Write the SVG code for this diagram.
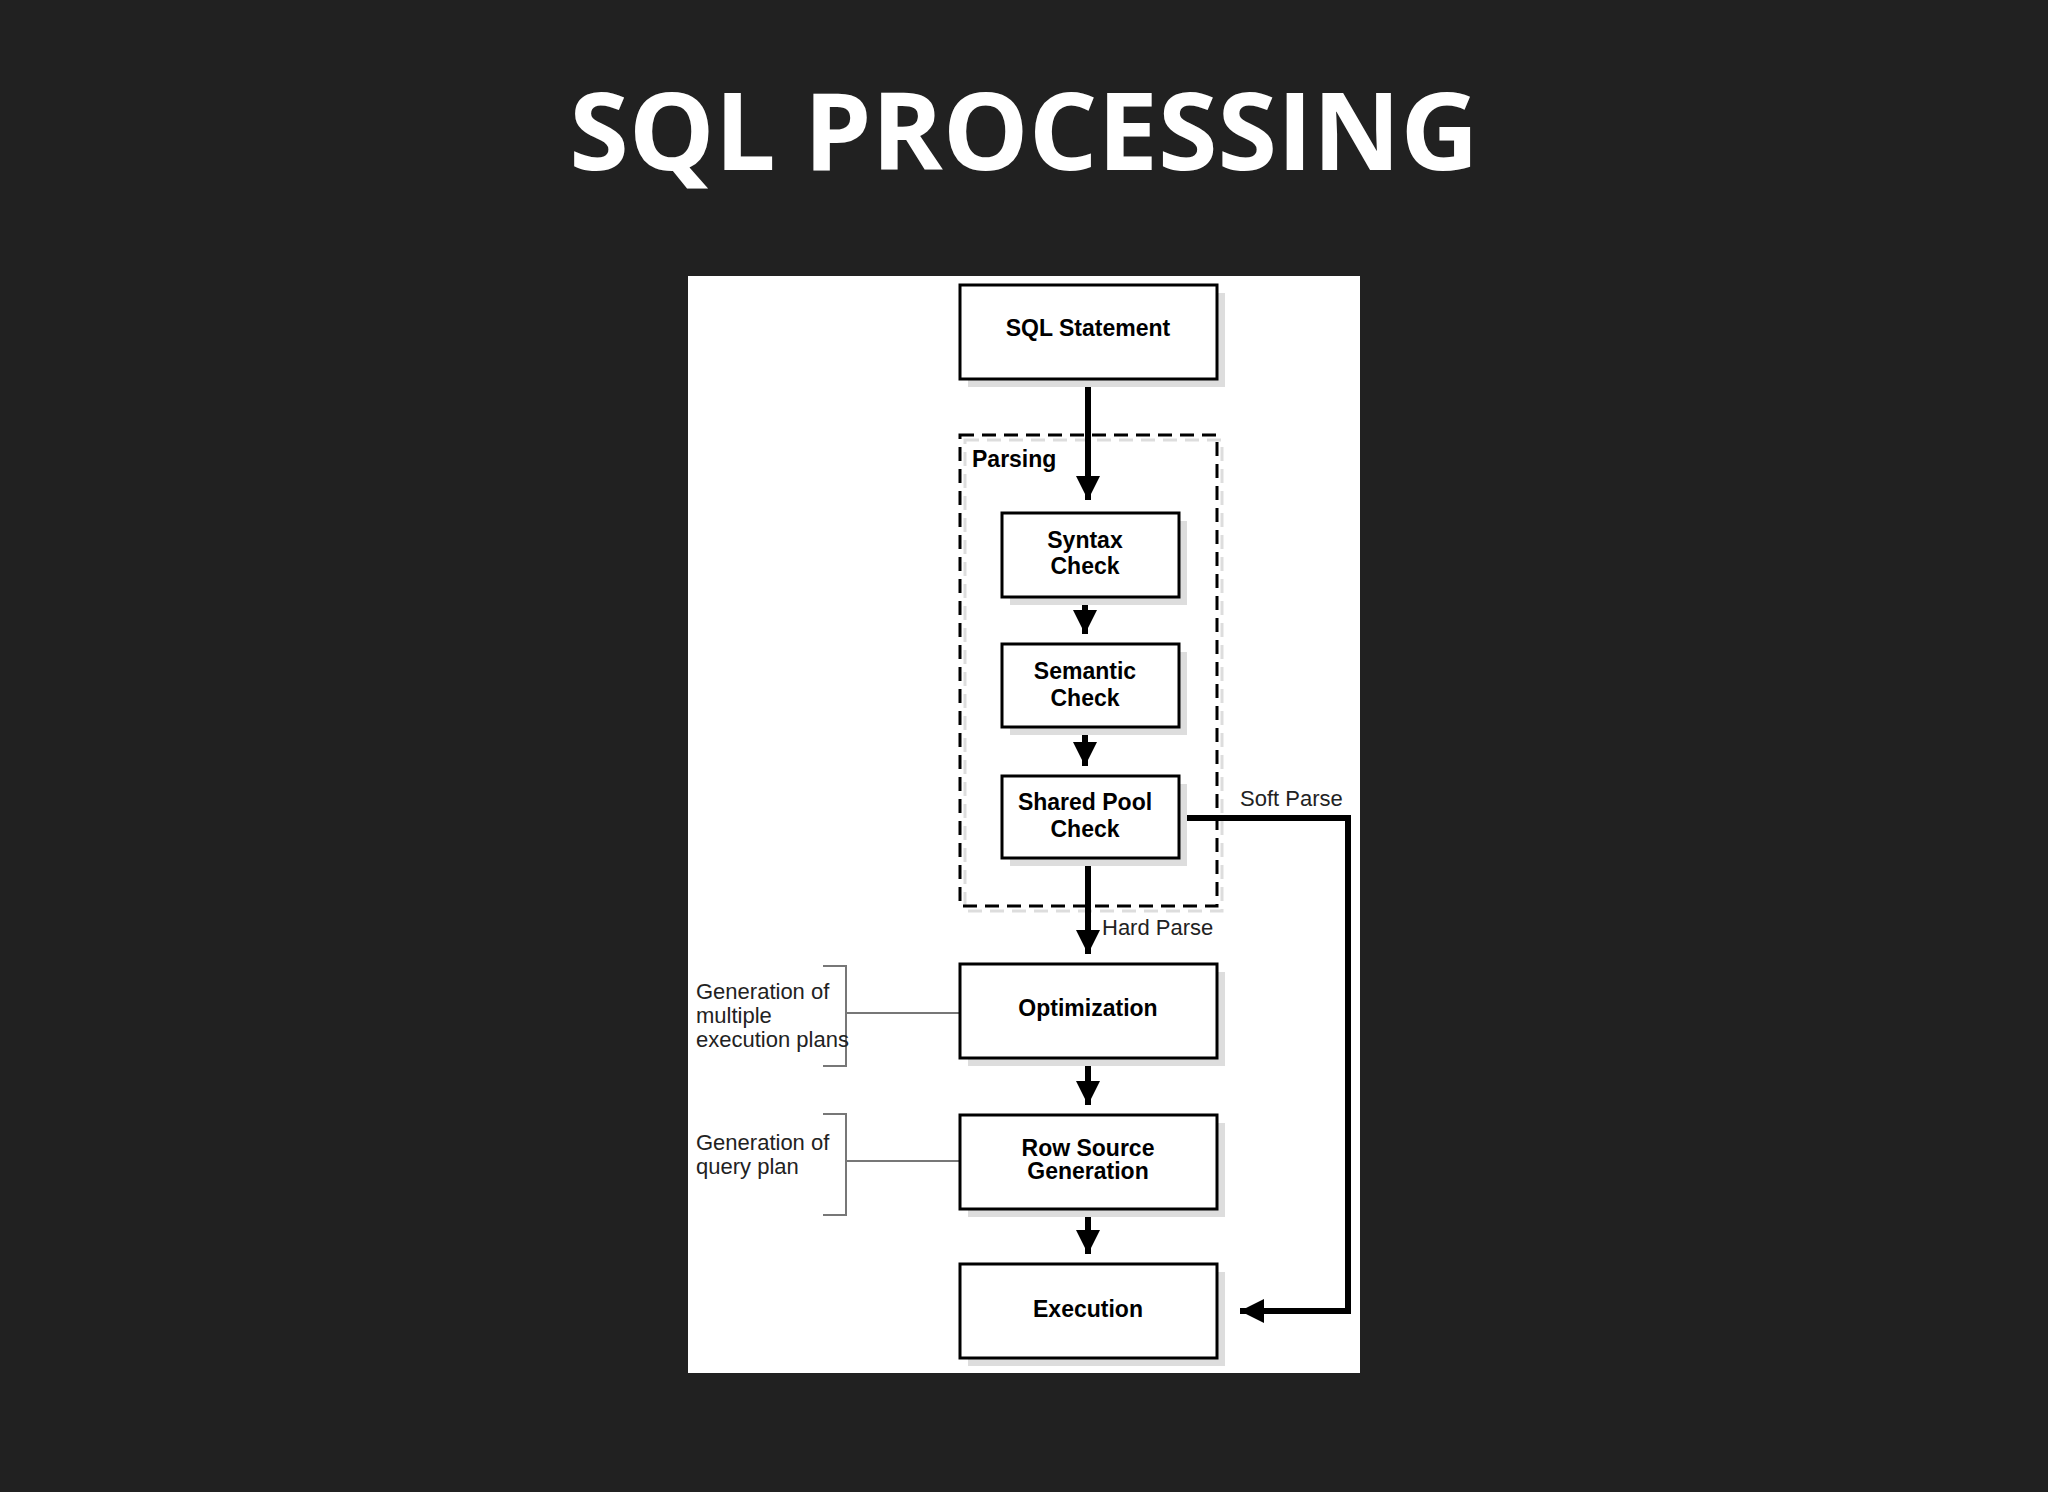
<svg xmlns="http://www.w3.org/2000/svg" width="2048" height="1492" viewBox="0 0 2048 1492">
<style>
.box{fill:#fff;stroke:#000;stroke-width:3}
.sh{fill:#ddd}
.bt{font-family:"Liberation Sans",Arial,sans-serif;font-weight:bold;font-size:23px;text-anchor:middle;fill:#000}
.lt{font-family:"Liberation Sans",Arial,sans-serif;font-size:22px;fill:#222}
.ar{stroke:#000;stroke-width:6;fill:none}
.thin{stroke:#777;stroke-width:2;fill:none}
</style>
<defs>
<marker id="ah" viewBox="0 0 10 10" refX="10" refY="5" markerWidth="4" markerHeight="4" markerUnits="strokeWidth" orient="auto"><path d="M0,0 L10,5 L0,10 z" fill="#000"/></marker>
</defs>
<rect width="2048" height="1492" fill="#212121"/>
<text x="1024" y="170" font-family="'Open Sans','Noto Sans',sans-serif" font-weight="bold" font-size="108" fill="#fff" text-anchor="middle">SQL PROCESSING</text>
<rect x="688" y="276" width="672" height="1097" fill="#fff"/>
<g id="parsing">
<rect x="965" y="440" width="257" height="471" fill="none" stroke="#ddd" stroke-width="3" stroke-dasharray="14,8"/>
<rect x="960" y="435" width="257" height="471" fill="none" stroke="#000" stroke-width="3" stroke-dasharray="14,8"/>
<text x="972" y="467" class="bt" text-anchor="start" style="text-anchor:start">Parsing</text>
</g>
<g id="connectors">
<path class="ar" d="M1088,379 V500" marker-end="url(#ah)"/>
<path class="ar" d="M1085,597 V634" marker-end="url(#ah)"/>
<path class="ar" d="M1085,727 V766" marker-end="url(#ah)"/>
<path class="ar" d="M1088,858 V954" marker-end="url(#ah)"/>
<path class="ar" d="M1088,1058 V1105" marker-end="url(#ah)"/>
<path class="ar" d="M1088,1209 V1254" marker-end="url(#ah)"/>
<path class="ar" d="M1179,818 H1348 V1311 H1240" marker-end="url(#ah)"/>
<path class="thin" d="M823,966 H846 V1066 H823 M846,1013 H960"/>
<path class="thin" d="M823,1114 H846 V1215 H823 M846,1161 H960"/>
</g>
<text x="1240" y="806" class="lt">Soft Parse</text>
<text x="1102" y="935" class="lt">Hard Parse</text>
<g id="sql"><rect class="sh" x="968" y="293" width="257" height="94"/><rect class="box" x="960" y="285" width="257" height="94"/><text class="bt" x="1088" y="336">SQL Statement</text></g>
<g id="syntax"><rect class="sh" x="1010" y="521" width="177" height="84"/><rect class="box" x="1002" y="513" width="177" height="84"/><text class="bt" x="1085" y="548">Syntax</text><text class="bt" x="1085" y="574">Check</text></g>
<g id="semantic"><rect class="sh" x="1010" y="652" width="177" height="83"/><rect class="box" x="1002" y="644" width="177" height="83"/><text class="bt" x="1085" y="679">Semantic</text><text class="bt" x="1085" y="706">Check</text></g>
<g id="sharedpool"><rect class="sh" x="1010" y="784" width="177" height="82"/><rect class="box" x="1002" y="776" width="177" height="82"/><text class="bt" x="1085" y="810">Shared Pool</text><text class="bt" x="1085" y="837">Check</text></g>
<g id="optimization"><rect class="sh" x="968" y="972" width="257" height="94"/><rect class="box" x="960" y="964" width="257" height="94"/><text class="bt" x="1088" y="1016">Optimization</text></g>
<g id="rowsource"><rect class="sh" x="968" y="1123" width="257" height="94"/><rect class="box" x="960" y="1115" width="257" height="94"/><text class="bt" x="1088" y="1156">Row Source</text><text class="bt" x="1088" y="1179">Generation</text></g>
<g id="execution"><rect class="sh" x="968" y="1272" width="257" height="94"/><rect class="box" x="960" y="1264" width="257" height="94"/><text class="bt" x="1088" y="1317">Execution</text></g>
<g id="note1"><text class="lt" x="696" y="999">Generation of</text><text class="lt" x="696" y="1023">multiple</text><text class="lt" x="696" y="1047">execution plans</text></g>
<g id="note2"><text class="lt" x="696" y="1150">Generation of</text><text class="lt" x="696" y="1174">query plan</text></g>
</svg>
